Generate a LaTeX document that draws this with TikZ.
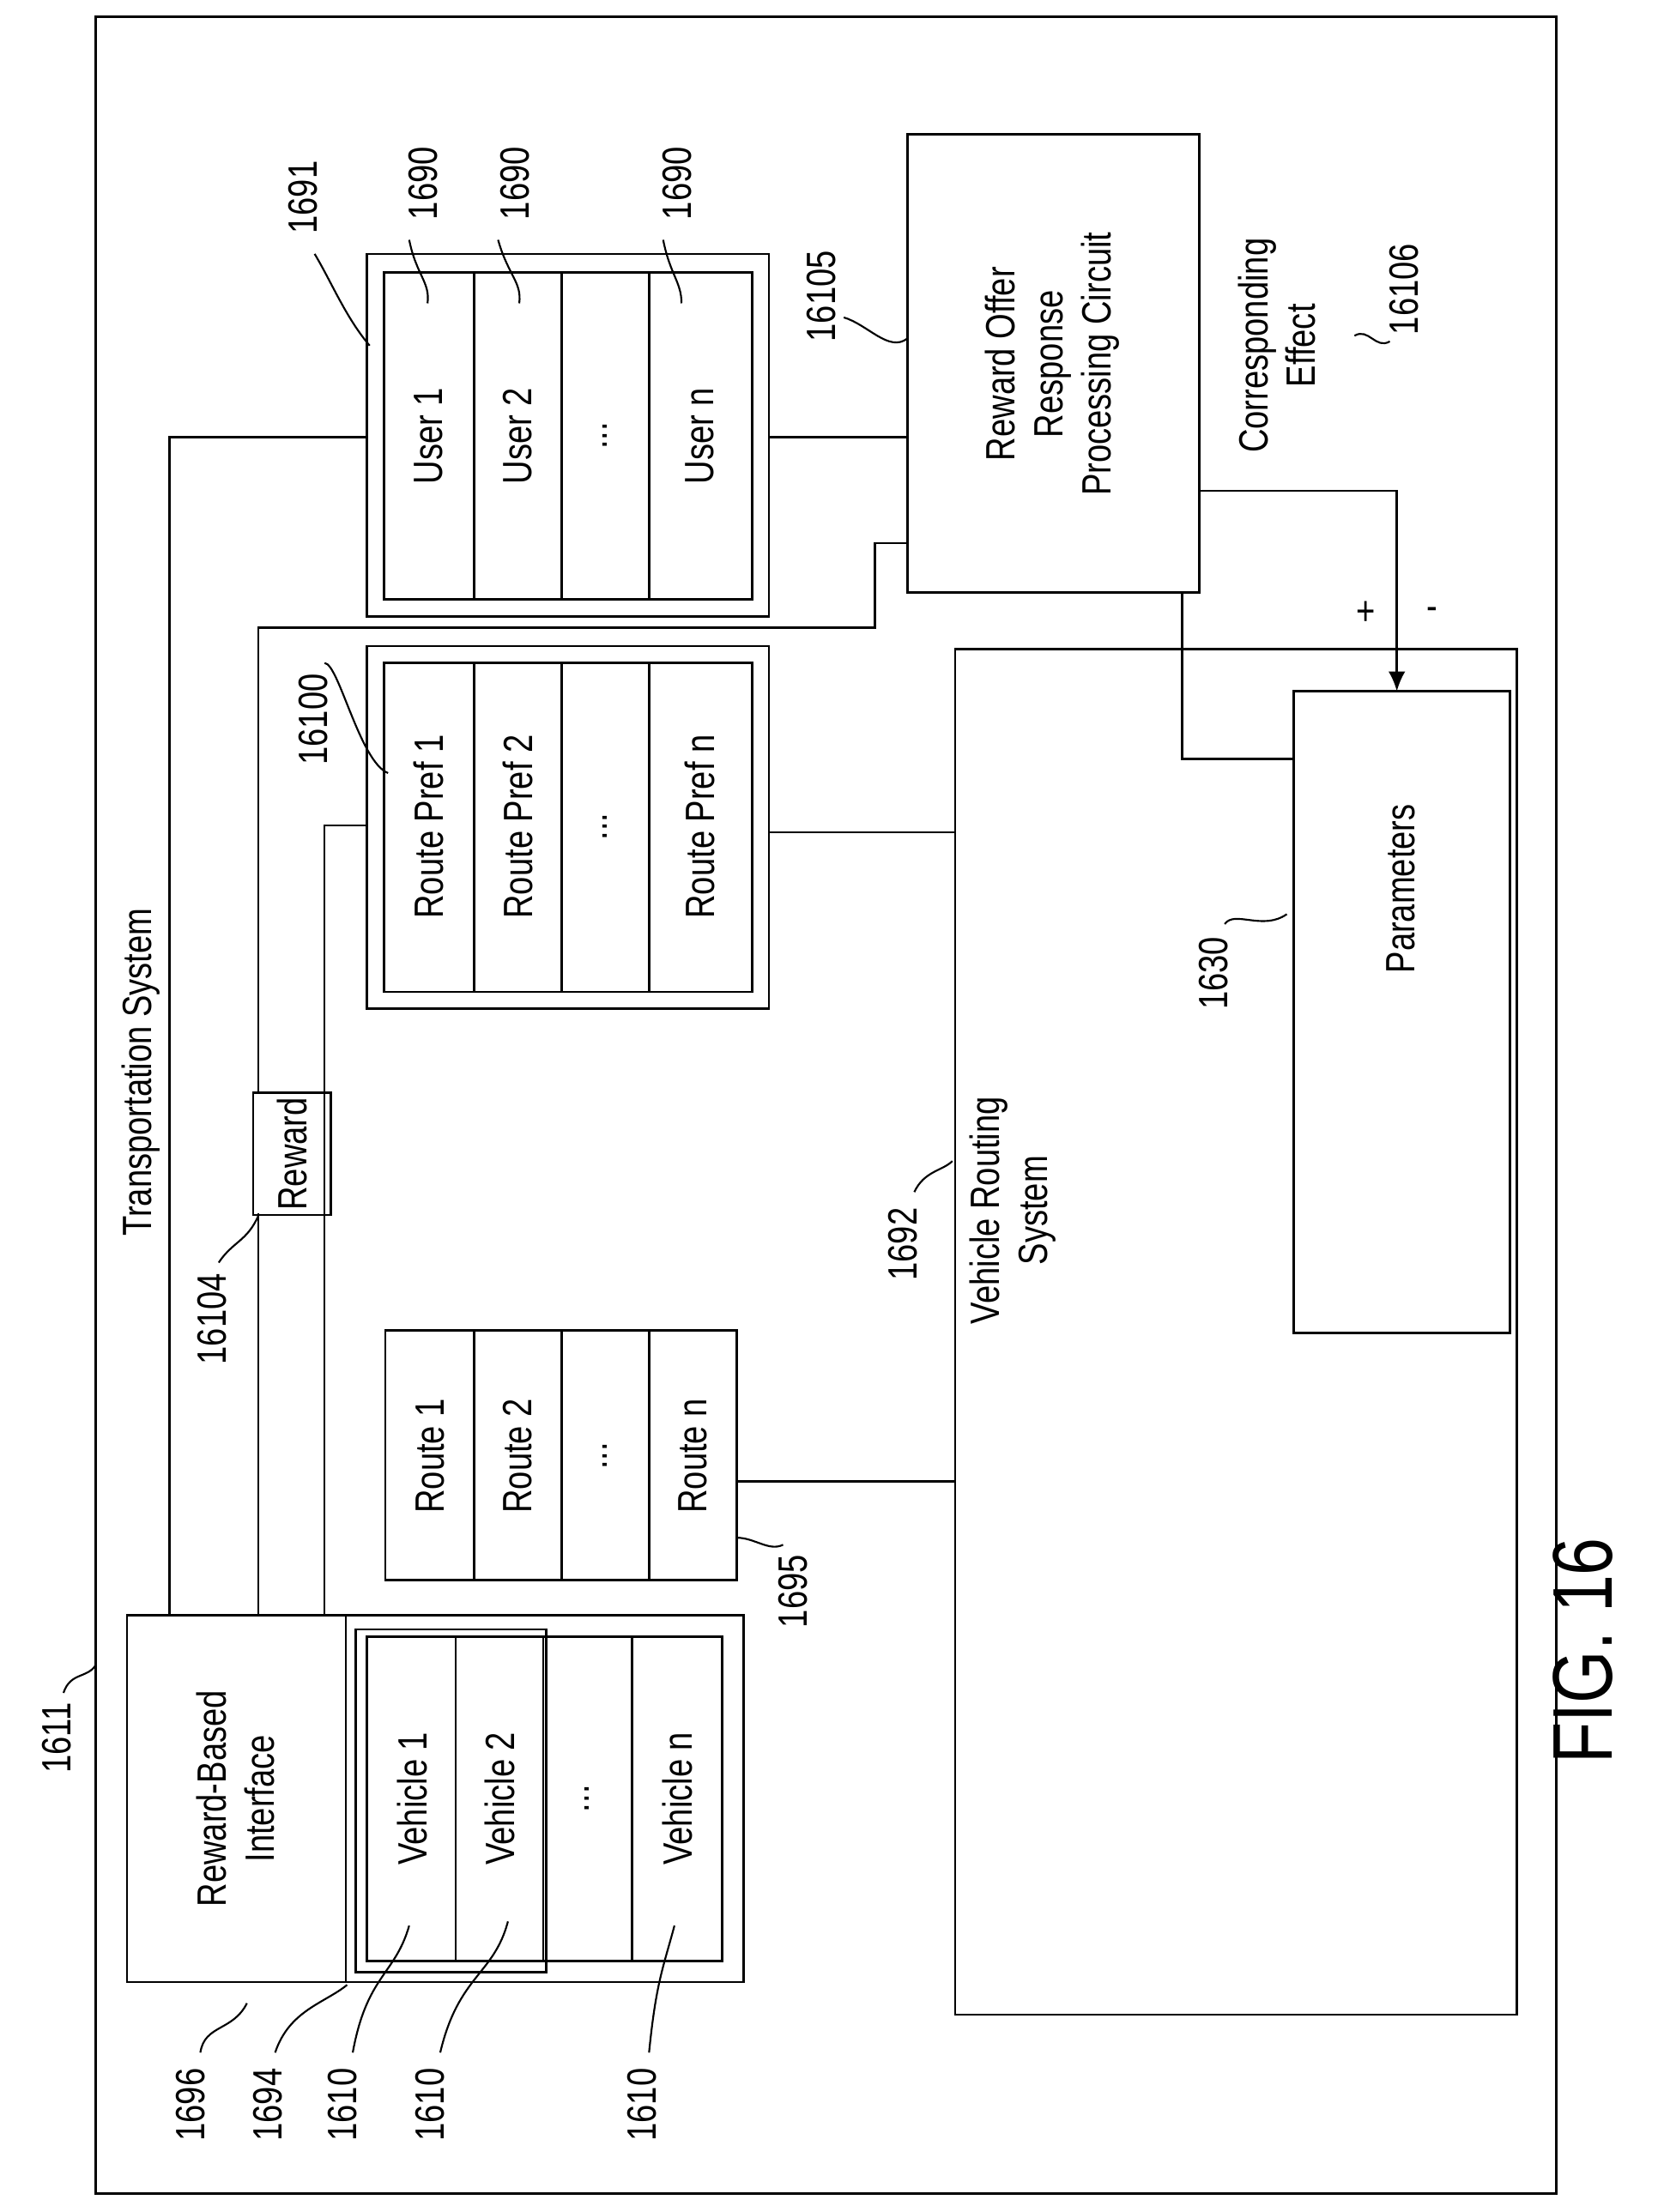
\documentclass[tikz,border=0pt]{standalone}
\usepackage{fontspec}
\setmainfont{Liberation Sans}[FakeStretch=0.8]
\usetikzlibrary{positioning}
\usetikzlibrary{arrows.meta}
\tikzset{
  every node/.style={font=\fontsize{29}{34}\selectfont},
  txt/.style={rotate=90, align=center, inner sep=0pt},
  box/.style={draw, line width=1.6pt},
  lead/.style={line width=1.3pt},
  wire/.style={line width=1.6pt}
}
\newcommand{\rows}[4]{% x0, y0, x1, y1 with dividers
  \draw[box] (#1,#2) rectangle (#3,#4);
  \foreach \xx in {336,398,460} \draw[box] (\xx,#2) -- (\xx,#4);
}
\begin{document}
\begin{tikzpicture}[x=1pt,y=-1pt]
  \useasboundingbox (0,0) rectangle (1175,1568);
  % outline
  \draw[box] (68,12) rectangle (1103,1555);
  \node[txt] (ts) at (100,760) {Transportation System};

  % reward based interface and vehicles
  \draw[box] (90,1145) rectangle (245,1405);
  \node[txt] (rbi) at (167,1275) {Reward-Based\\Interface};
  \draw[box] (245,1145) rectangle (527,1405);
  \draw[box] (260,1160) rectangle (512,1390);
  \foreach \xx in {323,385,448} \draw[box] (\xx,1160) -- (\xx,1390);
  \draw[box] (252,1155) rectangle (387,1398);
  \node[txt] (v1) at (292,1275) {Vehicle 1};
  \node[txt] (v2) at (354,1275) {Vehicle 2};
  \node[txt] (vd) at (416,1275) {...};
  \node[txt] (vn) at (480,1275) {Vehicle n};

  % routes
  \rows{273}{943}{522}{1120}
  \node[txt] (r1) at (305,1032) {Route 1};
  \node[txt] (r2) at (367,1032) {Route 2};
  \node[txt] (rd) at (429,1032) {...};
  \node[txt] (rn) at (491,1032) {Route n};

  % route preferences
  \draw[box] (260,458) rectangle (545,715);
  \rows{272}{470}{533}{703}
  \node[txt] (p1) at (304,586) {Route Pref 1};
  \node[txt] (p2) at (367,586) {Route Pref 2};
  \node[txt] (pd) at (429,586) {...};
  \node[txt] (pn) at (496,586) {Route Pref n};

  % users
  \draw[box] (260,180) rectangle (545,437);
  \rows{272}{193}{533}{425}
  \node[txt] (u1) at (304,309) {User 1};
  \node[txt] (u2) at (367,309) {User 2};
  \node[txt] (ud) at (429,309) {...};
  \node[txt] (un) at (496,309) {User n};

  % circuit, routing system, parameters
  \draw[box] (643,95) rectangle (850,420);
  \node[txt] (roc) at (746,258) {Reward Offer\\Response\\Processing Circuit};
  \draw[box] (677,460) rectangle (1075,1428);
  \node[txt] (vrs) at (718,858) {Vehicle Routing\\System};
  \draw[box] (917,490) rectangle (1070,945);
  \node[txt] (par) at (993,630) {Parameters};
  \node[txt] (ce) at (905,245) {Corresponding\\Effect};
  \node[draw, line width=1.6pt, rotate=90, minimum width=85pt, minimum height=55pt] (rw) at (207,818) {Reward};

  % wires
  \draw[wire] (120,1145) -- (120,310) -- (260,310);
  \draw[wire] (183,1145) -- (183,860);
  \draw[wire] (183,775) -- (183,445) -- (620,445) -- (620,385) -- (643,385);
  \draw[wire] (230,1145) -- (230,585) -- (260,585);
  \draw[wire] (522,1050) -- (677,1050);
  \draw[wire] (545,590) -- (677,590);
  \draw[wire] (545,310) -- (643,310);
  \draw[wire] (838,420) -- (838,538) -- (917,538);
  \draw[wire, -{Latex[length=14pt,width=12pt]}] (850,348) -- (990,348) -- (990,490);
  \node (plus) at (968,435) {+};
  \node (minus) at (1015,435) {-};

  % reference numerals
  \node[txt] (n1611) at (40,1232) {1611};
  \draw[lead] (45,1200) .. controls (50,1185) and (62,1190) .. (68,1180);
  \node[txt] (n1696) at (135,1492) {1696};
  \draw[lead] (142,1455) .. controls (145,1435) and (165,1440) .. (175,1420);
  \node[txt] (n1694) at (190,1492) {1694};
  \draw[lead] (195,1455) .. controls (205,1425) and (230,1420) .. (246,1407);
  \node[txt] (n1610a) at (243,1492) {1610};
  \draw[lead] (250,1455) .. controls (260,1400) and (280,1400) .. (290,1365);
  \node[txt] (n1610b) at (305,1492) {1610};
  \draw[lead] (312,1455) .. controls (325,1400) and (350,1400) .. (360,1362);
  \node[txt] (n1610c) at (455,1492) {1610};
  \draw[lead] (460,1455) .. controls (465,1405) and (470,1395) .. (478,1365);
  \node[txt] (n1695) at (562,1128) {1695};
  \draw[lead] (555,1095) .. controls (545,1100) and (535,1090) .. (522,1090);
  \node[txt] (n1692) at (640,882) {1692};
  \draw[lead] (648,845) .. controls (655,830) and (668,830) .. (675,823);
  \node[txt] (n1630) at (860,690) {1630};
  \draw[lead] (868,655) .. controls (875,645) and (895,660) .. (912,648);
  \node[txt] (n16104) at (150,935) {16104};
  \draw[lead] (155,895) .. controls (165,880) and (175,880) .. (183,862);
  \node[txt] (n16100) at (222,510) {16100};
  \draw[lead] (230,470) .. controls (240,470) and (255,540) .. (275,548);
  \node[txt] (n1691) at (215,140) {1691};
  \draw[lead] (223,180) .. controls (235,200) and (245,225) .. (262,245);
  \node[txt] (n1690a) at (300,130) {1690};
  \draw[lead] (290,170) .. controls (295,195) and (305,200) .. (303,215);
  \node[txt] (n1690b) at (365,130) {1690};
  \draw[lead] (353,170) .. controls (360,195) and (370,200) .. (368,215);
  \node[txt] (n1690c) at (480,130) {1690};
  \draw[lead] (470,170) .. controls (475,195) and (483,200) .. (483,215);
  \node[txt] (n16105) at (582,210) {16105};
  \draw[lead] (598,225) .. controls (615,230) and (630,250) .. (643,240);
  \node[txt] (n16106) at (995,205) {16106};
  \draw[lead] (960,238) .. controls (970,232) and (975,248) .. (985,242);
  \node[txt, font=\fontsize{60}{62}\selectfont] (fig) at (1122,1170) {FIG. 16};
\end{tikzpicture}
\end{document}
